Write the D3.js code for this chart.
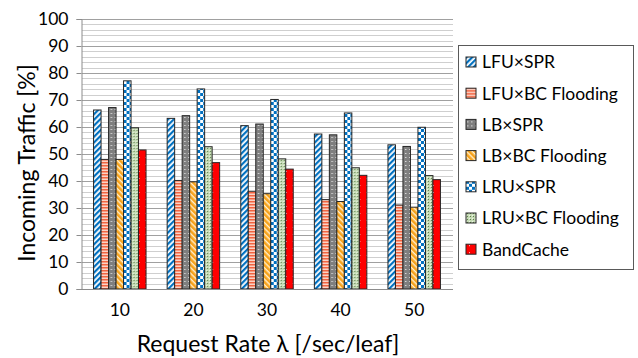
<!DOCTYPE html>
<html>
<head>
<meta charset="utf-8">
<script src="https://cdn.jsdelivr.net/npm/d3@7"></script>
<style>
  body { margin: 0; background: #fff; }
  text { font-family: Lato, "Open Sans", sans-serif; fill: #000; }
</style>
</head>
<body>
<div id="chart"></div>
<script>
var svgWidth = 638;
var svgHeight = 358;

// data
var rates = ["10", "20", "30", "40", "50"];
var seriesNames = ["LFU×SPR", "LFU×BC Flooding", "LB×SPR", "LB×BC Flooding", "LRU×SPR", "LRU×BC Flooding", "BandCache"];
var lfuSpr = [66.3, 63.2, 60.5, 57.4, 53.4];
var lfuBc = [48.0, 40.2, 36.2, 33.1, 31.1];
var lbSpr = [67.2, 64.2, 61.1, 57.1, 52.8];
var lbBc = [48.0, 39.7, 35.3, 32.4, 30.3];
var lruSpr = [77.1, 74.1, 70.2, 65.2, 59.9];
var lruBc = [59.7, 52.7, 48.2, 44.9, 42.0];
var bandCache = [51.5, 46.8, 44.4, 42.1, 40.5];
var yTicks = [0, 10, 20, 30, 40, 50, 60, 70, 80, 90, 100];

var seriesValues = [lfuSpr, lfuBc, lbSpr, lbBc, lruSpr, lruBc, bandCache];

var plot = { left: 83, right: 451, top: 19, bottom: 289 };

var svg = d3.select("#chart")
  .append("svg")
  .attr("width", svgWidth)
  .attr("height", svgHeight);

// patterns for the bar fills
var defs = svg.append("defs");

function pattern(id, size, angle) {
  var p = defs.append("pattern")
    .attr("id", id)
    .attr("patternUnits", "userSpaceOnUse")
    .attr("width", size)
    .attr("height", size);
  if (angle) p.attr("patternTransform", "rotate(" + angle + ")");
  return p;
}

// wide upward diagonal, blue
var p0 = pattern("p0", 4, 45);
p0.append("rect").attr("width", 4).attr("height", 4).attr("fill", "#fff");
p0.append("rect").attr("width", 2.2).attr("height", 4).attr("fill", "#0070c0");

// horizontal stripes, orange-red
var p1 = pattern("p1", 3, 0);
p1.append("rect").attr("width", 3).attr("height", 3).attr("fill", "#fbd3c6");
p1.append("rect").attr("width", 3).attr("height", 1.5).attr("fill", "#f26440");

// gray with white dashes
var p2 = pattern("p2", 4, 0);
p2.append("rect").attr("width", 4).attr("height", 4).attr("fill", "#7f7f7f");
p2.append("rect").attr("x", 1).attr("y", 1).attr("width", 1.5).attr("height", 1).attr("fill", "#d9d9d9");

// orange with wide downward diagonal
var p3 = pattern("p3", 4, -45);
p3.append("rect").attr("width", 4).attr("height", 4).attr("fill", "#fff0d0");
p3.append("rect").attr("width", 2.6).attr("height", 4).attr("fill", "#f7a21b");

// blue checkerboard
var p4 = pattern("p4", 6, 0);
p4.append("rect").attr("width", 6).attr("height", 6).attr("fill", "#fff");
p4.append("rect").attr("width", 3).attr("height", 3).attr("fill", "#0070c0");
p4.append("rect").attr("x", 3).attr("y", 3).attr("width", 3).attr("height", 3).attr("fill", "#0070c0");

// light green with small diamonds
var p5 = pattern("p5", 3, 0);
p5.append("rect").attr("width", 3).attr("height", 3).attr("fill", "#c5dbb4");
p5.append("rect").attr("x", 1).attr("y", 1).attr("width", 1).attr("height", 1).attr("fill", "#5f7f4f");
p5.append("rect").attr("x", 0).attr("y", 0).attr("width", 1).attr("height", 1).attr("fill", "#eef5e8");

// red with small white dots
var p6 = pattern("p6", 7, 0);
p6.append("rect").attr("width", 7).attr("height", 7).attr("fill", "#ff0000");
p6.append("rect").attr("x", 3).attr("y", 3).attr("width", 1).attr("height", 1).attr("fill", "#ffd0d0");

// scales
var x0 = d3.scaleBand()
  .domain(rates)
  .range([plot.left, plot.right])
  .paddingInner(0.287)
  .paddingOuter(0.1435);

var x1 = d3.scaleBand()
  .domain(d3.range(seriesNames.length))
  .range([0, x0.bandwidth()]);

var y = d3.scaleLinear()
  .domain([0, 100])
  .range([plot.bottom, plot.top]);

// gridlines: minor every 2, major every 10
var grid = svg.append("g");
grid.selectAll("line.minor")
  .data(d3.range(2, 100, 2).filter(d => d % 10 !== 0))
  .enter()
  .append("line")
  .attr("x1", plot.left - 1)
  .attr("x2", plot.right + 2)
  .attr("y1", d => Math.round(y(d)) + 0.5)
  .attr("y2", d => Math.round(y(d)) + 0.5)
  .attr("stroke", "#cfcfcf");

grid.selectAll("line.major")
  .data(yTicks.slice(1))
  .enter()
  .append("line")
  .attr("x1", plot.left - 1)
  .attr("x2", plot.right + 2)
  .attr("y1", d => Math.round(y(d)) + 0.5)
  .attr("y2", d => Math.round(y(d)) + 0.5)
  .attr("stroke", "#a0a0a0");

// y axis
var leftAxis = d3.axisLeft(y)
  .tickValues(yTicks)
  .tickSize(5)
  .tickPadding(8);

var yAxis = svg.append("g")
  .attr("transform", "translate(" + (plot.left - 1.5) + ",0)")
  .call(leftAxis);
yAxis.select(".domain").attr("stroke", "#8c8c8c");
yAxis.selectAll(".tick line").attr("stroke", "#8c8c8c");
yAxis.selectAll(".tick text")
  .style("font-size", "17.5px")
  .style("font-family", "Lato, sans-serif");

// bars
var groups = svg.append("g")
  .selectAll("g")
  .data(rates)
  .enter()
  .append("g")
  .attr("transform", d => "translate(" + x0(d) + ",0)");

groups.selectAll("rect")
  .data((d, i) => seriesValues.map((vals, s) => ({ s: s, v: vals[i] })))
  .enter()
  .append("rect")
  .attr("x", d => x1(d.s))
  .attr("y", d => y(d.v))
  .attr("width", x1.bandwidth())
  .attr("height", d => y(0) - y(d.v))
  .attr("fill", d => "url(#p" + d.s + ")")
  .attr("stroke", "#262626")
  .attr("stroke-width", 1);

// x axis
var bottomAxis = d3.axisBottom(x0)
  .tickSize(0)
  .tickPadding(14);

var xAxis = svg.append("g")
  .attr("transform", "translate(0," + (plot.bottom + 0.5) + ")")
  .call(bottomAxis);
xAxis.select(".domain")
  .attr("d", "M" + (plot.left - 1.5) + ",0H" + (plot.right + 2))
  .attr("stroke", "#8c8c8c");
xAxis.selectAll(".tick text")
  .style("font-size", "17.5px")
  .style("font-family", "Lato, sans-serif");

// axis titles
svg.append("text")
  .attr("transform", "rotate(-90)")
  .attr("x", -163)
  .attr("y", 35)
  .attr("text-anchor", "middle")
  .style("font-size", "23px")
  .text("Incoming Traffic [%]");

svg.append("text")
  .attr("x", 268)
  .attr("y", 352)
  .attr("text-anchor", "middle")
  .style("font-size", "23px")
  .text("Request Rate λ [/sec/leaf]");

// legend
var legend = svg.append("g");
legend.append("rect")
  .attr("x", 458.5)
  .attr("y", 45.5)
  .attr("width", 175)
  .attr("height", 224)
  .attr("fill", "#fff")
  .attr("stroke", "#595959");

var items = legend.selectAll("g.item")
  .data(seriesNames)
  .enter()
  .append("g")
  .attr("transform", (d, i) => "translate(466," + (62 + i * 31.2) + ")");

items.append("rect")
  .attr("x", 0)
  .attr("y", -5)
  .attr("width", 10)
  .attr("height", 10)
  .attr("fill", (d, i) => "url(#p" + i + ")")
  .attr("stroke", "#262626")
  .attr("stroke-width", 1);

items.append("text")
  .attr("x", 16)
  .attr("y", 0)
  .attr("dy", "0.36em")
  .style("font-size", "17.5px")
  .text(d => d);
</script>
</body>
</html>
